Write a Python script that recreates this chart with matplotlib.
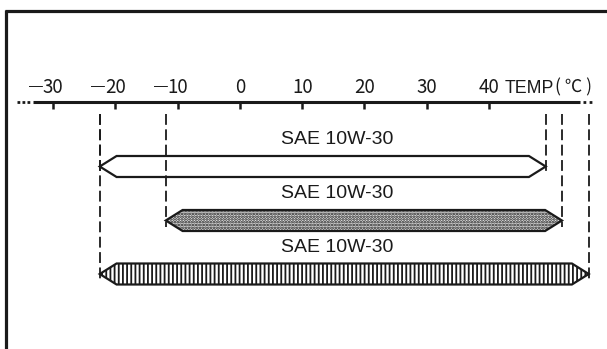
import matplotlib
matplotlib.use("Agg")
import matplotlib.pyplot as plt
from matplotlib.patches import Polygon

# Temperature scale and oil-grade ranges (deg C)
tick_temps = [-30, -20, -10, 0, 10, 20, 30, 40]
tick_labels = ["\u201430", "\u201420", "\u201410", "0", "10", "20", "30", "40"]
grades = ["SAE 10W-30", "SAE 10W-30", "SAE 10W-30"]
range_low = [-22.5, -11.9, -22.5]
range_high = [49.1, 51.7, 56.0]

W, H = 607, 349
PX_PER_DEG = 6.229
X_ZERO = 239.9  # pixel column of 0 deg C


def deg(px):
    return (px - X_ZERO) / PX_PER_DEG


plt.rcParams["hatch.linewidth"] = 1.3
plt.rcParams["hatch.color"] = "#1a1a1a"

fig = plt.figure(figsize=(W / 100, H / 100), dpi=100)
ax = fig.add_axes([0, 0, 1, 1])
ax.set_xlim(deg(0), deg(W))
ax.set_ylim(H, 0)
ax.axis("off")

ink = "#1a1a1a"
cjk = ["Noto Sans CJK JP", "DejaVu Sans"]

# frame (top and left edges)
ax.plot([deg(5), deg(W + 2)], [11, 11], color=ink, lw=2.3, solid_capstyle="butt")
ax.plot([deg(6.5), deg(6.5)], [9.9, H + 2], color=ink, lw=2.3, solid_capstyle="butt")

# temperature axis
axis_y = 102
ax.plot([deg(33), deg(580)], [axis_y, axis_y], color=ink, lw=2.2, solid_capstyle="butt")
ax.plot([deg(17), deg(31)], [axis_y, axis_y], color=ink, lw=2.0,
        linestyle=(0, (1.0, 0.8)))
ax.plot([deg(583), deg(592)], [axis_y, axis_y], color=ink, lw=2.0,
        linestyle=(0, (1.0, 1.2)))
for t, lab in zip(tick_temps, tick_labels):
    ax.plot([t, t], [axis_y, axis_y + 7], color=ink, lw=1.8, solid_capstyle="butt")
    digits = lab.lstrip("\u2014")
    ax.text(t, 93, digits, ha="center", va="baseline", fontsize=13.5,
            family=cjk, color=ink)
    if lab.startswith("\u2014"):
        # long minus sign ahead of the digits
        ax.text(t - 1.6, 90.0, "\u2014", ha="right", va="baseline", fontsize=10,
                family="Liberation Sans", color=ink)
ax.text(deg(505), 93, "TEMP", ha="left", va="baseline", fontsize=12.8,
        family="Liberation Sans", color=ink)
ax.text(deg(555), 92, "( \u2103 )", ha="left", va="baseline", fontsize=12.5,
        family=cjk, color=ink)

# bars
rows_mid = [166.5, 220.5, 274.0]
half_h = 10.5
shoulder = 2.7
label_y = [139, 194, 248]
fills = [
    dict(facecolor="white", hatch=None),
    dict(facecolor="#e2e2e2", hatch="......"),
    dict(facecolor="white", hatch="||||"),
]

for lo, hi, ym, lab, ly, f in zip(range_low, range_high, rows_mid, grades, label_y, fills):
    top, bot = ym - half_h, ym + half_h
    pts = [(lo, ym), (lo + shoulder, top), (hi - shoulder, top),
           (hi, ym), (hi - shoulder, bot), (lo + shoulder, bot)]
    poly = Polygon(pts, closed=True, facecolor=f["facecolor"], edgecolor=ink,
                   lw=1.6, hatch=f["hatch"], joinstyle="miter")
    ax.add_patch(poly)
    ax.text(deg(337), ly, lab, ha="center", va="center",
            fontsize=14, family="Liberation Sans", color=ink)
    # dashed guides down from the axis to each end of the range
    for x in (lo, hi):
        ax.plot([x, x], [114, ym + 6], color=ink, lw=1.3,
                linestyle=(0, (6, 2.5)))

fig.savefig("out.png", dpi=100)
